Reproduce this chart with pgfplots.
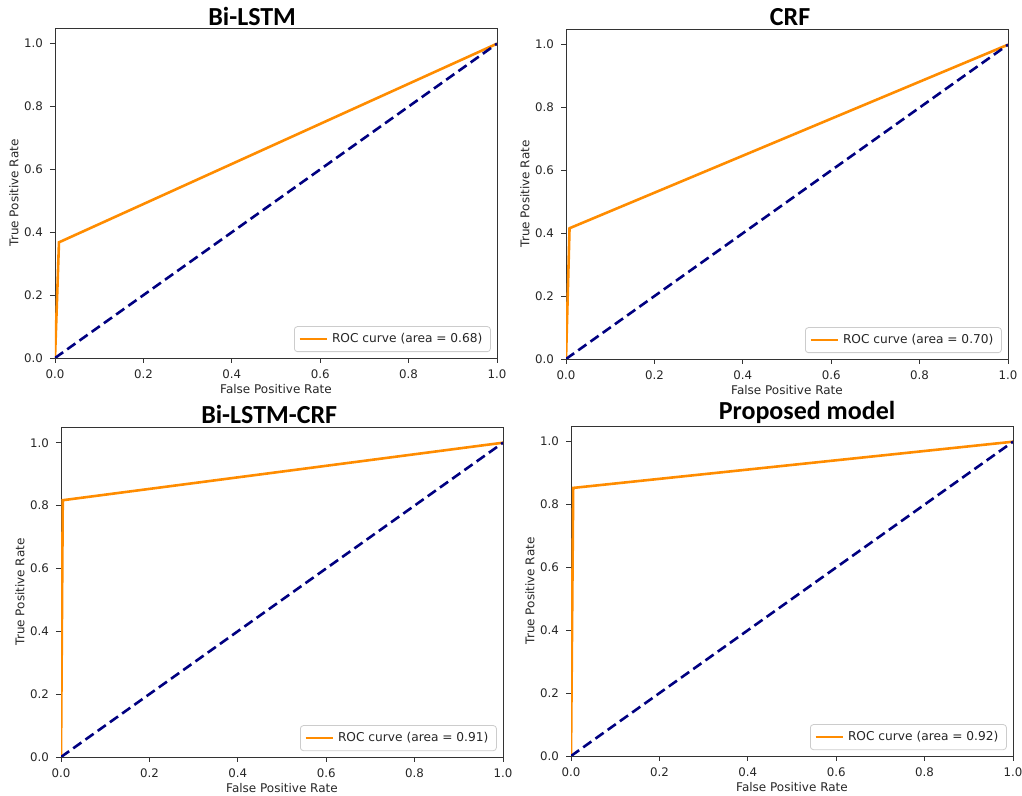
\documentclass[border=0pt]{standalone}
\usepackage{fontspec}
\setmainfont{DejaVu Sans}
\newfontfamily\titlefont{Carlito}
\usepackage{pgfplots}
\pgfplotsset{compat=1.18}
\definecolor{rocorange}{RGB}{255,140,0}
\definecolor{rocnavy}{RGB}{0,0,128}
\pgfplotsset{
  rocaxis/.style={
    scale only axis, width=221pt, height=165pt, anchor=south west,
    xmin=0, xmax=1, ymin=0, ymax=1.05,
    xtick={0,0.2,0.4,0.6,0.8,1.0}, ytick={0,0.2,0.4,0.6,0.8,1.0},
    xticklabels={0.0,0.2,0.4,0.6,0.8,1.0}, yticklabels={0.0,0.2,0.4,0.6,0.8,1.0},
    tick align=outside, tick pos=left,
    major tick length=2.5pt,
    every tick/.style={black!80, line width=0.45pt},
    axis line style={black!80, line width=0.45pt},
    tick label style={font=\fontsize{5.9}{7}\selectfont, text=black!85},
    xlabel={False Positive Rate}, ylabel={True Positive Rate},
    label style={font=\fontsize{6}{7}\selectfont, text=black!85},
    xlabel style={at={(axis description cs:0.5,-0.094)}, anchor=center},
    ylabel style={at={(axis description cs:-0.093,0.5)}, anchor=center},
    legend style={at={(0.986,0.018)}, anchor=south east, draw=black!20,
      rounded corners=1.5pt, font=\fontsize{6.1}{7}\selectfont, text=black!85,
      inner xsep=2pt, inner ysep=1.2pt, fill=white},
    legend cell align=left,
    legend image code/.code={\draw[#1] (0pt,0pt) -- (13.5pt,0pt);},
    every axis title shift=0pt,
    title style={anchor=base, font=\titlefont\bfseries\fontsize{13}{15}\selectfont, text=black},
  },
  roc/.style={rocorange, line width=1.3pt},
  chance/.style={rocnavy, line width=1.3pt, dash pattern=on 5pt off 2.5pt},
}
\begin{document}
\begin{tikzpicture}
\useasboundingbox (0,0) rectangle (511pt,398pt);
% Panel 1
\begin{axis}[rocaxis, at={(27.5pt,219pt)}, title={Bi-LSTM},
  title style={at={(0.446,1)}, yshift=1pt}]
\addplot[roc] coordinates {(0,0) (0.009,0.368) (1,1)};
\addlegendentry{ROC curve (area = 0.68)}
\addplot[chance, forget plot] coordinates {(0,0) (1,1)};
\end{axis}
% Panel 2
\begin{axis}[rocaxis, at={(283pt,218.5pt)}, title={CRF},
  title style={at={(0.507,1)}, yshift=1.7pt}]
\addplot[roc] coordinates {(0,0) (0.008,0.416) (1,1)};
\addlegendentry{ROC curve (area = 0.70)}
\addplot[chance, forget plot] coordinates {(0,0) (1,1)};
\end{axis}
% Panel 3
\begin{axis}[rocaxis, at={(30.5pt,19.5pt)}, title={Bi-LSTM-CRF},
  title style={at={(0.471,1)}, yshift=1.5pt}]
\addplot[roc] coordinates {(0,0) (0.004,0.817) (1,1)};
\addlegendentry{ROC curve (area = 0.91)}
\addplot[chance, forget plot] coordinates {(0,0) (1,1)};
\end{axis}
% Panel 4
\begin{axis}[rocaxis, at={(285.5pt,20pt)}, title={Proposed model},
  title style={at={(0.534,1)}, yshift=3.3pt}]
\addplot[roc] coordinates {(0,0) (0.005,0.853) (1,1)};
\addlegendentry{ROC curve (area = 0.92)}
\addplot[chance, forget plot] coordinates {(0,0) (1,1)};
\end{axis}
\end{tikzpicture}
\end{document}
